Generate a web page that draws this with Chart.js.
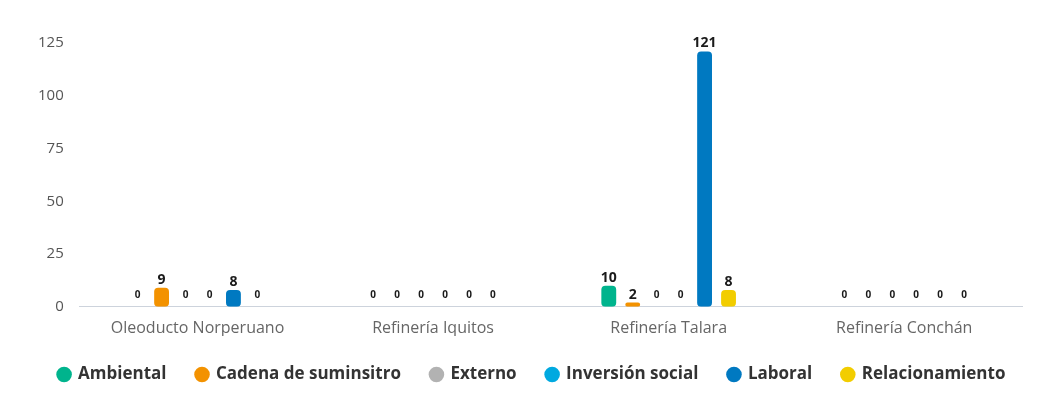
<!DOCTYPE html>
<html>
<head>
<meta charset="utf-8">
<script src="https://cdn.jsdelivr.net/npm/chart.js@4.4.0/dist/chart.umd.min.js"></script>
<style>
  html, body { margin: 0; padding: 0; background: #fff; }
  #wrap { width: 1046px; height: 408px; position: relative; }
</style>
</head>
<body>
<div id="wrap"><canvas id="chart"></canvas></div>
<script>
// categories and series
const categories = ['Oleoducto Norperuano', 'Refinería Iquitos', 'Refinería Talara', 'Refinería Conchán'];
const ambiental = [0, 0, 10, 0];
const cadena = [9, 0, 2, 0];
const externo = [0, 0, 0, 0];
const inversion = [0, 0, 0, 0];
const laboral = [8, 0, 121, 0];
const relacionamiento = [0, 0, 8, 0];
const seriesNames = ['Ambiental', 'Cadena de suminsitro', 'Externo', 'Inversión social', 'Laboral', 'Relacionamiento'];
const seriesColors = ['#00b48d', '#f39200', '#b2b2b2', '#00a9e0', '#0079c1', '#f2cd00'];
const yTicks = [0, 25, 50, 75, 100, 125];

const FONT = "'Open Sans', sans-serif";

// draws value labels above each bar (no datalabels plugin offline)
const valueLabels = {
  id: 'valueLabels',
  afterDatasetsDraw(chart) {
    const ctx = chart.ctx;
    ctx.save();
    ctx.fillStyle = '#1a1a1a';
    ctx.textAlign = 'center';
    ctx.textBaseline = 'bottom';
    chart.data.datasets.forEach((ds, i) => {
      const meta = chart.getDatasetMeta(i);
      if (meta.hidden) return;
      meta.data.forEach((bar, j) => {
        const v = ds.data[j];
        if (v === 0) {
          ctx.font = 'bold 10px ' + FONT;
          ctx.fillText('0', bar.x, bar.y - 7);
        } else {
          ctx.font = 'bold 14px ' + FONT;
          ctx.fillText(String(v), bar.x, bar.y - 1);
        }
      });
    });
    ctx.restore();
  }
};

// keep the legend on one row, widen its box and shift its centre right
const legendTweak = {
  id: 'legendTweak',
  beforeInit(chart) {
    const lg = chart.legend;
    if (!lg) return;
    const fit = lg.fit;
    lg.fit = function () { this.maxWidth = 1100; fit.call(this); };
  },
  afterLayout(chart) {
    if (!chart.legend) return;
    chart.legend.left -= 10;
    chart.legend.right += 30;
  }
};

const allValues = [ambiental, cadena, externo, inversion, laboral, relacionamiento];

new Chart(document.getElementById('chart'), {
  type: 'bar',
  data: {
    labels: categories,
    datasets: allValues.map((vals, i) => ({
      label: seriesNames[i],
      data: vals,
      backgroundColor: seriesColors[i],
      borderRadius: 4,
      borderSkipped: false,
      categoryPercentage: 0.61,
      barPercentage: 0.62
    }))
  },
  options: {
    responsive: true,
    maintainAspectRatio: false,
    animation: false,
    layout: { padding: { top: 43, right: 24, left: 22, bottom: 15 } },
    plugins: {
      tooltip: { enabled: false },
      legend: {
        position: 'bottom',
        labels: {
          usePointStyle: true,
          pointStyle: 'circle',
          boxWidth: 11,
          boxHeight: 11,
          padding: 30,
          color: '#333333',
          font: { family: FONT, size: 17, weight: 'bold' }
        }
      }
    },
    scales: {
      x: {
        grid: { display: false, drawTicks: false },
        border: { color: '#cdd3dc', width: 1 },
        ticks: { color: '#666666', padding: 12, font: { family: FONT, size: 16 } },
        afterFit: (axis) => { axis.height -= 14; }
      },
      y: {
        min: 0,
        max: 125,
        afterBuildTicks: (axis) => { axis.ticks = yTicks.map(v => ({ value: v })); },
        grid: { display: false, drawTicks: false },
        border: { display: false },
        ticks: { color: '#555555', padding: 16, font: { family: FONT, size: 15 } }
      }
    }
  },
  plugins: [valueLabels, legendTweak]
});
</script>
</body>
</html>
